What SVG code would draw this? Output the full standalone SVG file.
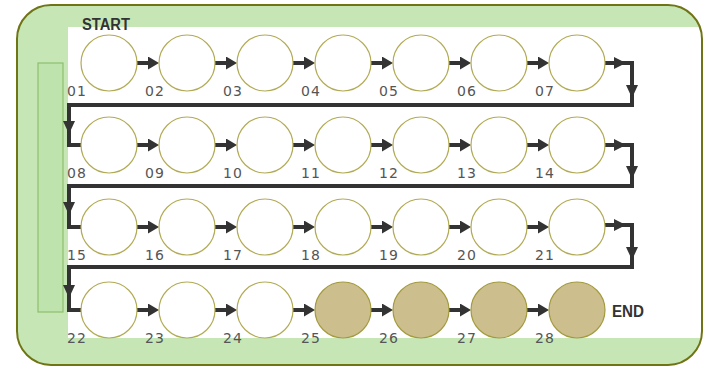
<svg xmlns="http://www.w3.org/2000/svg" width="703" height="368" viewBox="0 0 703 368">
<defs>
<style>
.frame{fill:none;stroke:#6f7414;stroke-width:2}
.band{fill:#c6e7b5}
.panel{fill:#bfe3ac;stroke:#8fbe6e;stroke-width:1.2}
.c{fill:#ffffff;stroke:#b2ab55;stroke-width:1.2}
.f{fill:#cdbf8d;stroke:#a39a3e;stroke-width:1.2}
.lbl{font-family:"DejaVu Sans",Verdana,sans-serif;font-size:14px;fill:#555555;letter-spacing:1px}
.big{font-family:"Liberation Sans",Arial,sans-serif;font-size:16px;font-weight:bold;fill:#333333}
.ar{fill:none;stroke:#333333;stroke-width:4;marker-end:url(#ah)}
.run{fill:none;stroke:#333333;stroke-width:4;stroke-linejoin:miter}
.hd{fill:#333333}
</style>
<marker id="ah" markerUnits="userSpaceOnUse" markerWidth="11" markerHeight="13" refX="0" refY="6.5" orient="auto" viewBox="0 0 11 13"><path d="M0,0 L11,6.5 L0,13 z" fill="#333333"/></marker>
<clipPath id="clip"><rect x="17" y="5" width="685" height="360" rx="34" ry="34"/></clipPath>
</defs>
<g id="background">
<rect class="band" x="17" y="5" width="685" height="360" rx="34" ry="34"/>
<rect x="68" y="27" width="640" height="311" fill="#ffffff" clip-path="url(#clip)"/>
<rect class="frame" x="17" y="5" width="685" height="360" rx="34" ry="34"/>
<rect class="panel" x="38" y="63" width="25" height="249"/>
</g>
<text class="big" x="82" y="30" textLength="48" lengthAdjust="spacingAndGlyphs">START</text>
<text class="big" x="612" y="317" textLength="32" lengthAdjust="spacingAndGlyphs">END</text>
<g id="connectors">
<line class="ar" x1="137" y1="63" x2="148" y2="63"/><line class="ar" x1="215" y1="63" x2="226" y2="63"/><line class="ar" x1="293" y1="63" x2="304" y2="63"/><line class="ar" x1="371" y1="63" x2="382" y2="63"/><line class="ar" x1="449" y1="63" x2="460" y2="63"/><line class="ar" x1="527" y1="63" x2="538" y2="63"/>
<line class="ar" x1="137" y1="145" x2="148" y2="145"/><line class="ar" x1="215" y1="145" x2="226" y2="145"/><line class="ar" x1="293" y1="145" x2="304" y2="145"/><line class="ar" x1="371" y1="145" x2="382" y2="145"/><line class="ar" x1="449" y1="145" x2="460" y2="145"/><line class="ar" x1="527" y1="145" x2="538" y2="145"/>
<line class="ar" x1="137" y1="227" x2="148" y2="227"/><line class="ar" x1="215" y1="227" x2="226" y2="227"/><line class="ar" x1="293" y1="227" x2="304" y2="227"/><line class="ar" x1="371" y1="227" x2="382" y2="227"/><line class="ar" x1="449" y1="227" x2="460" y2="227"/><line class="ar" x1="527" y1="227" x2="538" y2="227"/>
<line class="ar" x1="137" y1="310" x2="148" y2="310"/><line class="ar" x1="215" y1="310" x2="226" y2="310"/><line class="ar" x1="293" y1="310" x2="304" y2="310"/><line class="ar" x1="371" y1="310" x2="382" y2="310"/><line class="ar" x1="449" y1="310" x2="460" y2="310"/><line class="ar" x1="527" y1="310" x2="538" y2="310"/>
<path class="run" d="M605,63H632V105H69V145H81"/>
<path class="run" d="M605,145H632V186H69V227H81"/>
<path class="run" d="M605,225H632V267H69V310H81"/>
<polygon class="hd" points="614,57 626,63 614,69"/>
<polygon class="hd" points="626,85 632,98 638,85"/>
<polygon class="hd" points="63,121 69,134 75,121"/>
<polygon class="hd" points="614,139 626,145 614,151"/>
<polygon class="hd" points="626,166 632,179 638,166"/>
<polygon class="hd" points="63,202 69,215 75,202"/>
<polygon class="hd" points="614,219 626,225 614,231"/>
<polygon class="hd" points="626,247 632,260 638,247"/>
<polygon class="hd" points="63,285 69,298 75,285"/>
</g>
<g id="n01"><circle class="c" cx="109" cy="63" r="28"/><text class="lbl" x="67" y="96">01</text></g>
<g id="n02"><circle class="c" cx="187" cy="63" r="28"/><text class="lbl" x="145" y="96">02</text></g>
<g id="n03"><circle class="c" cx="265" cy="63" r="28"/><text class="lbl" x="223" y="96">03</text></g>
<g id="n04"><circle class="c" cx="343" cy="63" r="28"/><text class="lbl" x="301" y="96">04</text></g>
<g id="n05"><circle class="c" cx="421" cy="63" r="28"/><text class="lbl" x="379" y="96">05</text></g>
<g id="n06"><circle class="c" cx="499" cy="63" r="28"/><text class="lbl" x="457" y="96">06</text></g>
<g id="n07"><circle class="c" cx="577" cy="63" r="28"/><text class="lbl" x="535" y="96">07</text></g>
<g id="n08"><circle class="c" cx="109" cy="145" r="28"/><text class="lbl" x="67" y="178">08</text></g>
<g id="n09"><circle class="c" cx="187" cy="145" r="28"/><text class="lbl" x="145" y="178">09</text></g>
<g id="n10"><circle class="c" cx="265" cy="145" r="28"/><text class="lbl" x="223" y="178">10</text></g>
<g id="n11"><circle class="c" cx="343" cy="145" r="28"/><text class="lbl" x="301" y="178">11</text></g>
<g id="n12"><circle class="c" cx="421" cy="145" r="28"/><text class="lbl" x="379" y="178">12</text></g>
<g id="n13"><circle class="c" cx="499" cy="145" r="28"/><text class="lbl" x="457" y="178">13</text></g>
<g id="n14"><circle class="c" cx="577" cy="145" r="28"/><text class="lbl" x="535" y="178">14</text></g>
<g id="n15"><circle class="c" cx="109" cy="227" r="28"/><text class="lbl" x="67" y="260">15</text></g>
<g id="n16"><circle class="c" cx="187" cy="227" r="28"/><text class="lbl" x="145" y="260">16</text></g>
<g id="n17"><circle class="c" cx="265" cy="227" r="28"/><text class="lbl" x="223" y="260">17</text></g>
<g id="n18"><circle class="c" cx="343" cy="227" r="28"/><text class="lbl" x="301" y="260">18</text></g>
<g id="n19"><circle class="c" cx="421" cy="227" r="28"/><text class="lbl" x="379" y="260">19</text></g>
<g id="n20"><circle class="c" cx="499" cy="227" r="28"/><text class="lbl" x="457" y="260">20</text></g>
<g id="n21"><circle class="c" cx="577" cy="227" r="28"/><text class="lbl" x="535" y="260">21</text></g>
<g id="n22"><circle class="c" cx="109" cy="310" r="28"/><text class="lbl" x="67" y="343">22</text></g>
<g id="n23"><circle class="c" cx="187" cy="310" r="28"/><text class="lbl" x="145" y="343">23</text></g>
<g id="n24"><circle class="c" cx="265" cy="310" r="28"/><text class="lbl" x="223" y="343">24</text></g>
<g id="n25"><circle class="f" cx="343" cy="310" r="28"/><text class="lbl" x="301" y="343">25</text></g>
<g id="n26"><circle class="f" cx="421" cy="310" r="28"/><text class="lbl" x="379" y="343">26</text></g>
<g id="n27"><circle class="f" cx="499" cy="310" r="28"/><text class="lbl" x="457" y="343">27</text></g>
<g id="n28"><circle class="f" cx="577" cy="310" r="28"/><text class="lbl" x="535" y="343">28</text></g>
</svg>
